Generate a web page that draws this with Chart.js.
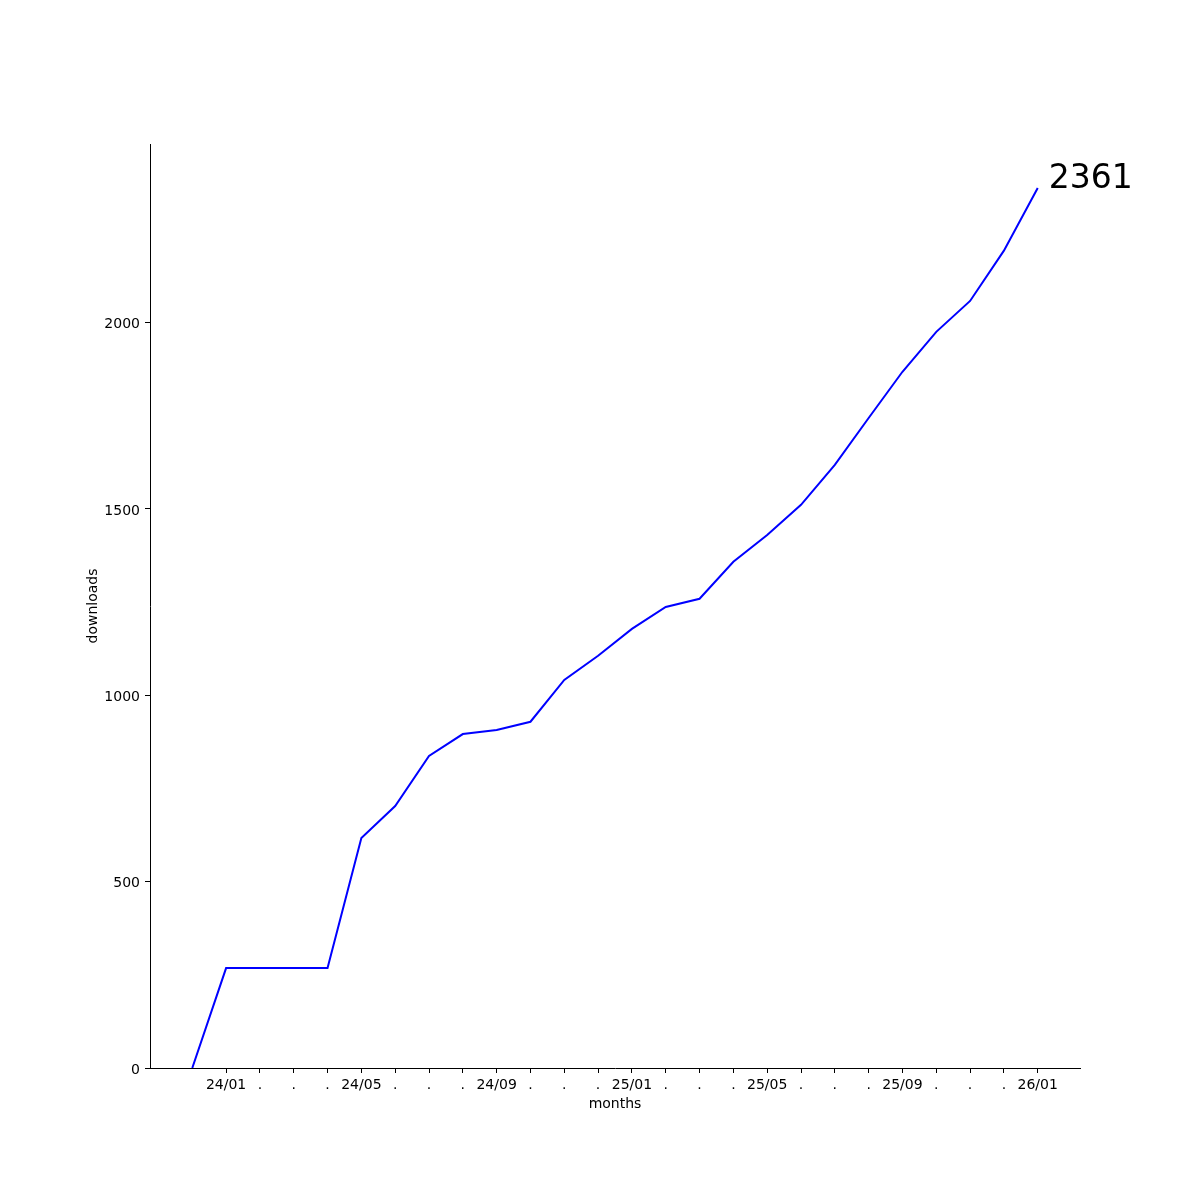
<!DOCTYPE html>
<html>
<head>
<meta charset="utf-8">
<script src="https://cdn.jsdelivr.net/npm/chart.js@4.4.1/dist/chart.umd.min.js"></script>
<style>
  html, body { margin: 0; padding: 0; background: #fff; }
  canvas { display: block; }
</style>
</head>
<body>
<canvas id="myChart" width="1200" height="1200"></canvas>
<script>
// cumulative downloads per month, index 0 = 23/12
const downloads = [0, 268, 268, 268, 268, 617, 703, 837, 896, 907, 929, 1041, 1106,
    1178, 1237, 1259, 1358, 1430, 1511, 1618, 1744, 1868, 1975, 2058, 2193, 2361];
// tick labels for month index 1..25
const tickPos = [1, 2, 3, 4, 5, 6, 7, 8, 9, 10, 11, 12, 13, 14, 15, 16, 17, 18, 19, 20, 21, 22, 23, 24, 25];
const tickLabels = ['24/01', '.', '.', '.', '24/05', '.', '.', '.', '24/09', '.', '.', '.',
    '25/01', '.', '.', '.', '25/05', '.', '.', '.', '25/09', '.', '.', '.', '26/01'];
const yTicks = [0, 500, 1000, 1500, 2000];

const FONT = 'DejaVu Sans';
const ctx = document.getElementById('myChart').getContext('2d');

const last = downloads.length - 1;
const yMax = downloads[last] * 1.05;
const xPad = last * 0.05;

// axis titles and the end value, matplotlib style
const textPlugin = {
    id: 'texts',
    afterDraw(chart) {
        const c = chart.ctx;
        const area = chart.chartArea;
        const sx = chart.scales.x, sy = chart.scales.y;
        c.save();
        c.fillStyle = '#000';
        c.font = '14px "' + FONT + '"';
        c.textAlign = 'center';
        c.textBaseline = 'alphabetic';
        c.fillText('months', (area.left + area.right) / 2, 1108);
        c.translate(97, (area.top + area.bottom) / 2);
        c.rotate(-Math.PI / 2);
        c.fillText('downloads', 0, 0);
        c.restore();

        c.save();
        c.fillStyle = '#000';
        c.font = '33px "' + FONT + '"';
        c.textAlign = 'left';
        c.textBaseline = 'alphabetic';
        c.fillText(String(downloads[last]), sx.getPixelForValue(last) + 11, sy.getPixelForValue(downloads[last]));
        c.restore();
    }
};

const myChart = new Chart(ctx, {
    type: 'line',
    data: {
        datasets: [{
            label: 'downloads',
            data: downloads.map((v, i) => ({ x: i, y: v })),
            borderColor: '#0000ff',
            borderWidth: 2,
            pointRadius: 0,
            tension: 0,
            fill: false
        }]
    },
    options: {
        responsive: false,
        animation: false,
        layout: { padding: { left: 0, top: 144, right: 120, bottom: 0 } },
        plugins: {
            legend: { display: false },
            tooltip: { enabled: false }
        },
        scales: {
            x: {
                type: 'linear',
                min: -xPad,
                max: last + xPad,
                afterBuildTicks: (scale) => { scale.ticks = tickPos.map(v => ({ value: v })); },
                afterFit: (scale) => { scale.height = 132; },
                ticks: {
                    autoSkip: false,
                    maxRotation: 0,
                    padding: 4,
                    color: '#000',
                    font: { family: FONT, size: 14 },
                    callback: (v) => tickLabels[tickPos.indexOf(v)]
                },
                grid: { display: true, drawOnChartArea: false, drawTicks: true, tickLength: 5, color: '#000' },
                border: { display: true, color: '#000', width: 1 }
            },
            y: {
                type: 'linear',
                min: 0,
                max: yMax,
                afterBuildTicks: (scale) => { scale.ticks = yTicks.map(v => ({ value: v })); },
                afterFit: (scale) => { scale.width = 150; },
                ticks: {
                    padding: 5,
                    labelOffset: 2,
                    color: '#000',
                    font: { family: FONT, size: 14 },
                    callback: (v) => String(v)
                },
                grid: { display: true, drawOnChartArea: false, drawTicks: true, tickLength: 5, color: '#000' },
                border: { display: true, color: '#000', width: 1 }
            }
        }
    },
    plugins: [textPlugin]
});
</script>
</body>
</html>
